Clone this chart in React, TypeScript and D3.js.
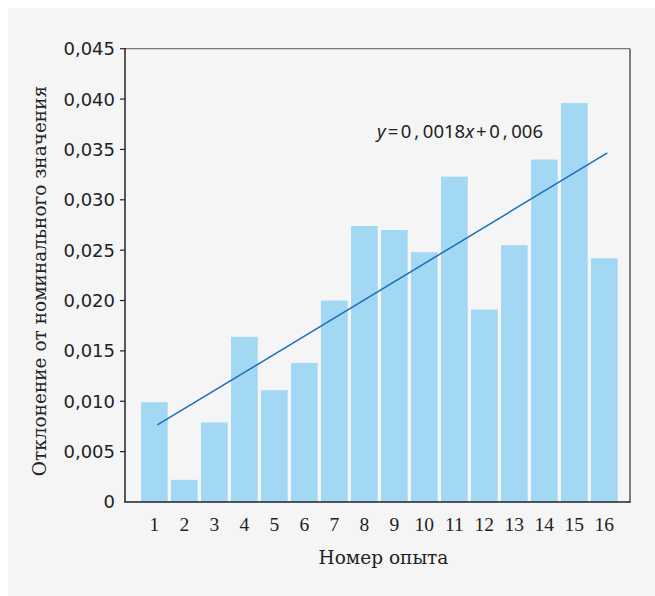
import React from "react";
import * as d3 from "d3";

const experiments = [1, 2, 3, 4, 5, 6, 7, 8, 9, 10, 11, 12, 13, 14, 15, 16];
const deviations = [
  0.0099, 0.0022, 0.0079, 0.0164, 0.0111, 0.0138, 0.02, 0.0274, 0.027, 0.0248,
  0.0323, 0.0191, 0.0255, 0.034, 0.0396, 0.0242,
];
const yTicks = [0, 0.005, 0.01, 0.015, 0.02, 0.025, 0.03, 0.035, 0.04, 0.045];
const trendSlope = 0.0018;
const trendIntercept = 0.006;
const xTitle = "Номер опыта";
const yTitle = "Отклонение от номинального значения";

const W = 655;
const H = 596;
const left = 125;
const right = 630;
const top = 48.7;
const bottom = 502;

export default function App() {
  const x = d3
    .scaleBand<number>()
    .domain(experiments)
    .range([139.35, 619.35])
    .paddingInner(0.11)
    .paddingOuter(0.055);
  const y = d3.scaleLinear().domain([0, 0.045]).range([bottom, top]);
  const cx = (d: number) => (x(d) as number) + x.bandwidth() / 2;

  const trend = d3
    .line<number>()
    .x((d) => cx(d) + 3)
    .y((d) => y(trendSlope * d + trendIntercept) + 1.5);
  const ends = [experiments[0], experiments[experiments.length - 1]];

  const fmt = (v: number) => (v === 0 ? "0" : d3.format(".3f")(v).replace(".", ","));

  return (
    <svg
      width={W}
      height={H}
      style={{ position: "absolute", left: 0, top: 0 }}
    >
      <rect x={8} y={8} width={W - 8} height={H - 8} fill="#f5f5f5" />
      {experiments.map((e, i) => (
        <rect
          key={e}
          x={x(e)}
          y={y(deviations[i])}
          width={x.bandwidth()}
          height={bottom - y(deviations[i])}
          fill="#a3d8f5"
        />
      ))}
      <path d={trend(ends) || ""} stroke="#1a6fb8" strokeWidth={1.5} fill="none" />
      {/* frame */}
      <line x1={left} x2={right} y1={top} y2={top} stroke="#777" strokeWidth={1.3} />
      <line x1={right} x2={right} y1={top} y2={bottom} stroke="#555" strokeWidth={1.5} />
      <line x1={left} x2={left} y1={top - 0.6} y2={bottom} stroke="#222" strokeWidth={1.5} />
      <line x1={left - 0.7} x2={right + 0.7} y1={bottom} y2={bottom} stroke="#222" strokeWidth={1.5} />
      {yTicks.map((t) => (
        <g key={t}>
          {t !== 0 && (
            <line x1={left - 5} x2={left} y1={y(t)} y2={y(t)} stroke="#222" strokeWidth={1.2} />
          )}
          <text
            x={115}
            y={y(t)}
            dy="0.36em"
            textAnchor="end"
            fontFamily="DejaVu Sans"
            fontSize={18}
            fill="#222"
          >
            {fmt(t)}
          </text>
        </g>
      ))}
      {experiments.map((e) => (
        <text
          key={e}
          x={cx(e)}
          y={531}
          textAnchor="middle"
          fontFamily="Liberation Serif"
          fontSize={19.5}
          fill="#222"
        >
          {e}
        </text>
      ))}
      <text
        x={383.5}
        y={564}
        textAnchor="middle"
        fontFamily="DejaVu Serif"
        fontSize={18.5}
        fill="#222"
      >
        {xTitle}
      </text>
      <text
        transform={`translate(46, 281) rotate(-90)`}
        textAnchor="middle"
        fontFamily="DejaVu Serif"
        fontSize={18.5}
        fill="#222"
      >
        {yTitle}
      </text>
      <text x={377} y={138} fontFamily="Noto Sans" fontSize={18.5} fill="#222">
        <tspan fontStyle="italic">y</tspan>
        <tspan dx={2}>=</tspan>
        <tspan dx={2.5}>0</tspan>
        <tspan dx={3}>,</tspan>
        <tspan dx={3.5}>0018</tspan>
        <tspan fontStyle="italic">x</tspan>
        <tspan dx={2}>+</tspan>
        <tspan dx={2.5}>0</tspan>
        <tspan dx={3}>,</tspan>
        <tspan dx={3.5}>006</tspan>
      </text>
    </svg>
  );
}
